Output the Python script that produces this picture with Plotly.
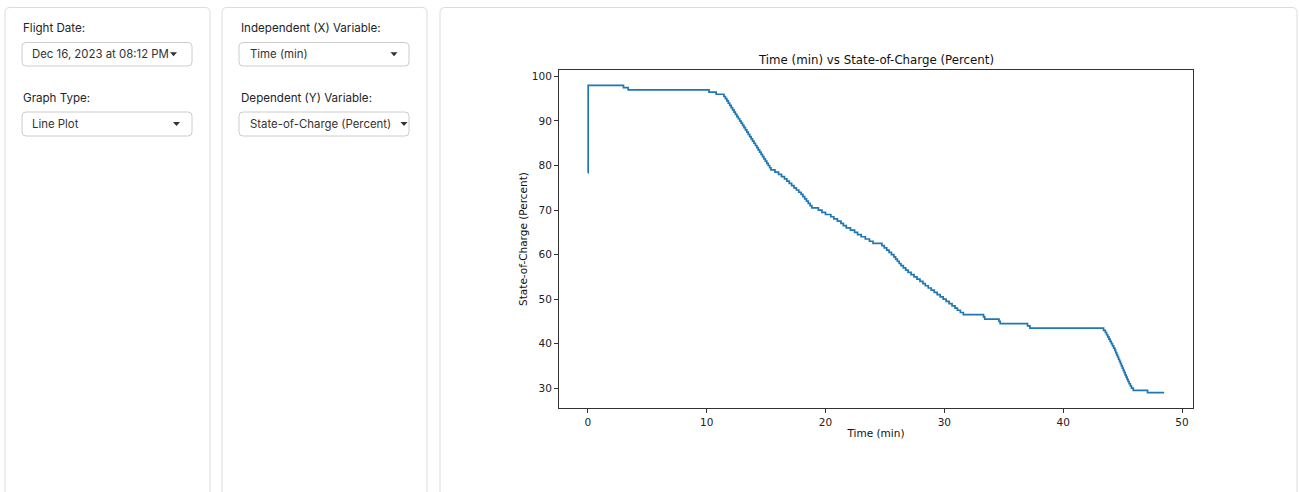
import plotly.graph_objects as go

# ---------------- data ----------------
time_min = [
    0.0, 0.03, 3.0, 3.4, 10.2, 10.8, 11.45,
    11.58, 11.7, 11.82, 11.94, 12.06, 12.18, 12.3, 12.42, 12.54, 12.66,
    12.78, 12.9, 13.02, 13.14, 13.26, 13.38, 13.5, 13.62, 13.74, 13.86,
    13.98, 14.1, 14.22, 14.34, 14.46, 14.58, 14.7, 14.82, 14.94, 15.06,
    15.18, 15.3, 15.41,
    15.75, 16.05, 16.3, 16.55, 16.75, 16.95, 17.15, 17.35, 17.55, 17.75,
    17.95, 18.1, 18.25, 18.4, 18.55, 18.7, 18.85,
    19.4, 19.7, 20.0, 20.45, 20.7, 21.0, 21.3, 21.5, 21.75, 22.1, 22.45,
    22.7, 23.0, 23.35, 23.7, 24.0,
    24.75, 24.95, 25.15, 25.35, 25.55, 25.75, 25.9, 26.05, 26.2, 26.35,
    26.55, 26.75, 26.95, 27.2, 27.45, 27.7, 27.95, 28.2, 28.4, 28.65,
    28.9, 29.15, 29.4, 29.65, 29.9, 30.15, 30.4, 30.65, 30.9, 31.1,
    31.35, 31.6,
    33.3, 33.4, 34.6, 34.7, 37.0, 37.2,
    43.4, 43.55, 43.65, 43.75, 43.85, 43.95, 44.05, 44.15, 44.25, 44.35,
    44.42, 44.5, 44.58, 44.66, 44.74, 44.82, 44.9, 44.98, 45.06, 45.14,
    45.22, 45.3, 45.38, 45.46, 45.55, 45.65, 45.75, 45.9,
    47.1, 48.5,
]
soc_pct = [
    78.4, 98.0, 97.5, 97.0, 96.5, 96.0, 95.5,
    95.0, 94.5, 94.0, 93.5, 93.0, 92.5, 92.0, 91.5, 91.0, 90.5,
    90.0, 89.5, 89.0, 88.5, 88.0, 87.5, 87.0, 86.5, 86.0, 85.5,
    85.0, 84.5, 84.0, 83.5, 83.0, 82.5, 82.0, 81.5, 81.0, 80.5,
    80.0, 79.5, 79.0,
    78.5, 78.0, 77.5, 77.0, 76.5, 76.0, 75.5, 75.0, 74.5, 74.0,
    73.5, 73.0, 72.5, 72.0, 71.5, 71.0, 70.5,
    70.0, 69.5, 69.0, 68.5, 68.0, 67.5, 67.0, 66.5, 66.0, 65.5, 65.0,
    64.5, 64.0, 63.5, 63.0, 62.5,
    62.0, 61.5, 61.0, 60.5, 60.0, 59.5, 59.0, 58.5, 58.0, 57.5,
    57.0, 56.5, 56.0, 55.5, 55.0, 54.5, 54.0, 53.5, 53.0, 52.5,
    52.0, 51.5, 51.0, 50.5, 50.0, 49.5, 49.0, 48.5, 48.0, 47.5,
    47.0, 46.5,
    46.0, 45.5, 45.0, 44.5, 44.0, 43.5,
    43.0, 42.5, 42.0, 41.5, 41.0, 40.5, 40.0, 39.5, 39.0, 38.5,
    38.0, 37.5, 37.0, 36.5, 36.0, 35.5, 35.0, 34.5, 34.0, 33.5,
    33.0, 32.5, 32.0, 31.5, 31.0, 30.5, 30.0, 29.5,
    29.0, 29.0,
]
x_ticks = [0, 10, 20, 30, 40, 50]
y_ticks = [30, 40, 50, 60, 70, 80, 90, 100]

x_label = "Time (min)"
y_label = "State-of-Charge (Percent)"
chart_title = f"{x_label} vs {y_label}"

flight_date = "Dec 16, 2023 at 08:12 PM"
graph_type = "Line Plot"

# ---------------- page geometry (pixels) ----------------
FIG_W, FIG_H = 1299, 492
L, R, T, B = 559, 1193, 70, 408
PW, PH = R - L, B - T


def px(xp):
    return (xp - L) / PW


def py(yp):
    return (B - yp) / PH


def rrect(x0, y0, x1, y1, r):
    rx, ry = r / PW, r / PH
    X0, X1 = px(x0), px(x1)
    Y0, Y1 = py(y0), py(y1)  # Y0 top (larger), Y1 bottom
    return (
        f"M {X0+rx},{Y0} L {X1-rx},{Y0} Q {X1},{Y0} {X1},{Y0-ry} "
        f"L {X1},{Y1+ry} Q {X1},{Y1} {X1-rx},{Y1} L {X0+rx},{Y1} "
        f"Q {X0},{Y1} {X0},{Y1+ry} L {X0},{Y0-ry} Q {X0},{Y0} {X0+rx},{Y0} Z"
    )


def caret(cx, cy, w=7, h=4):
    return (
        f"M {px(cx - w/2)},{py(cy - h/2)} L {px(cx + w/2)},{py(cy - h/2)} "
        f"L {px(cx)},{py(cy + h/2)} Z"
    )


# ---------------- figure ----------------
xmin, xmax = min(time_min), max(time_min)
ymin, ymax = min(soc_pct), max(soc_pct)
xpad, ypad = 0.05 * (xmax - xmin), 0.05 * (ymax - ymin)

fig = go.Figure()
fig.add_trace(go.Scatter(
    x=time_min, y=soc_pct, mode="lines",
    line=dict(color="#1f77b4", width=1.7, shape="hv"),
    hoverinfo="x+y", showlegend=False,
))

shapes = []
card_col = "#dcdcdc"
for (x0, x1) in [(5, 210), (222, 427), (440, 1297)]:
    shapes.append(dict(type="path", path=rrect(x0, 7.5, x1, 520, 5),
                       xref="paper", yref="paper", layer="below",
                       line=dict(color=card_col, width=1), fillcolor="white"))

dd_col = "#cccccc"
dropdowns = [
    (22, 192, 42.5, 66, flight_date, 29.5, 173.5),
    (22, 192, 112, 136, graph_type, 29.5, 176.5),
    (239, 409, 42.5, 66, x_label, 248, 394),
    (239, 409, 112, 136, y_label, 248, 404),
]
UI_FONT = "Inter"
UI_SIZE = 11.6
annotations = []
for (x0, x1, y0, y1, txt, tx, cx) in dropdowns:
    shapes.append(dict(type="path", path=rrect(x0, y0, x1, y1, 4),
                       xref="paper", yref="paper", layer="below",
                       line=dict(color=dd_col, width=1), fillcolor="white"))
    cy = (y0 + y1) / 2
    shapes.append(dict(type="path", path=caret(cx, cy), xref="paper", yref="paper",
                       line=dict(width=0), fillcolor="#333333"))
    annotations.append(dict(text=txt, x=px(tx), y=py(cy), xref="paper", yref="paper",
                            xanchor="left", yanchor="middle", showarrow=False,
                            font=dict(family=UI_FONT, size=UI_SIZE - 0.2, color="#333333")))

labels = [
    ("Flight Date:", 20.5, 28),
    ("Graph Type:", 20.5, 98),
    ("Independent (X) Variable:", 238.5, 28),
    ("Dependent (Y) Variable:", 238.5, 98),
]
for (txt, x, y) in labels:
    annotations.append(dict(text=txt, x=px(x), y=py(y), xref="paper", yref="paper",
                            xanchor="left", yanchor="middle", showarrow=False,
                            font=dict(family=UI_FONT, size=UI_SIZE, color="#212529")))

annotations.append(dict(text=chart_title, x=px((L + R) / 2), y=py(60),
                        xref="paper", yref="paper", xanchor="center", yanchor="middle",
                        showarrow=False,
                        font=dict(family="DejaVu Sans", size=11.8, color="#111111")))

axis_common = dict(
    showline=True, mirror=True, linecolor="#333333", linewidth=1,
    ticks="outside", ticklen=4, tickwidth=1, tickcolor="#333333",
    showgrid=False, zeroline=False,
    tickfont=dict(family="DejaVu Sans", size=10.5, color="#222222"),
)

fig.update_layout(
    width=FIG_W, height=FIG_H,
    margin=dict(l=L, r=FIG_W - R, t=T, b=FIG_H - B, autoexpand=False),
    paper_bgcolor="white", plot_bgcolor="white",
    shapes=shapes, annotations=annotations,
    xaxis=dict(range=[xmin - xpad, xmax + xpad], tickvals=x_ticks,
               title=dict(text=x_label, standoff=3,
                          font=dict(family="DejaVu Sans", size=10.5, color="#111111")),
               **axis_common),
    yaxis=dict(range=[ymin - ypad, ymax + ypad], tickvals=y_ticks,
               title=dict(text=y_label, standoff=2,
                          font=dict(family="DejaVu Sans", size=10.5, color="#111111")),
               **axis_common),
)

# the page body has a default 8px margin; remove it so the figure fills the window
fig.write_html("out.html", config={"displayModeBar": False},
               post_script="document.body.style.margin='0';")
